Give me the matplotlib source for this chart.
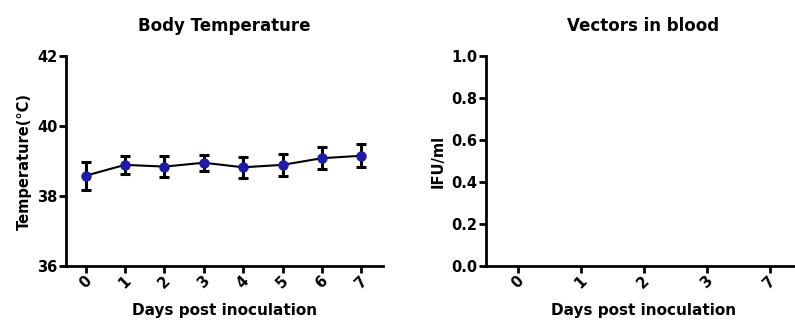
import numpy as np
import matplotlib
matplotlib.use("Agg")
import matplotlib.pyplot as plt

plt.rcParams['font.family'] = ['DejaVu Sans']
plt.rcParams['font.weight'] = 'bold'

# body temperature, mean and error per day
days = [0, 1, 2, 3, 4, 5, 6, 7]
temp = [38.58, 38.89, 38.84, 38.95, 38.82, 38.89, 39.08, 39.15]
temp_err = [0.40, 0.25, 0.30, 0.23, 0.30, 0.31, 0.32, 0.33]

# vectors in blood: no data drawn, only the category ticks
vec_days = ['0', '1', '2', '3', '7']

fig = plt.figure(figsize=(7.95, 3.26), dpi=100)
W, H = 795, 326

def px_axes(x0, y0, x1, y1):
    return fig.add_axes([x0 / W, 1 - y1 / H, (x1 - x0) / W, (y1 - y0) / H])

def style(ax):
    for s in ['top', 'right']:
        ax.spines[s].set_visible(False)
    for s in ['left', 'bottom']:
        ax.spines[s].set_linewidth(2)
    ax.tick_params(width=2, length=5, labelsize=10.5, pad=1)
    ax.tick_params(axis='x', pad=0)

# left panel
ax1 = px_axes(66, 56, 383, 266)
style(ax1)
ax1.errorbar(days, temp, yerr=temp_err, color='black', lw=1.5,
             ecolor='black', elinewidth=2.2, capsize=3.6, capthick=2.2,
             marker='o', ms=6.5, mfc='#1c1ca8', mec='#1c1ca8', zorder=3)
ax1.set_xlim(-0.5, 7.55)
ax1.set_ylim(36, 42)
ax1.set_yticks([36, 38, 40, 42])
ax1.set_xticks(days)
ax1.set_xticklabels([str(d) for d in days], rotation=45, ha='center', va='top')
ax1.set_title('Body Temperature', fontsize=12, fontweight='bold', pad=18)
ax1.set_ylabel('Temperature(°C)', fontsize=10.5, fontweight='bold', labelpad=4)
ax1.set_xlabel('Days post inoculation', fontsize=11, fontweight='bold', labelpad=9)

# right panel
ax2 = px_axes(486, 56, 801, 266)
style(ax2)
xpos = np.arange(len(vec_days))
ax2.set_xlim(-0.5, 4.5)
ax2.set_ylim(0, 1.0)
ax2.set_yticks([0.0, 0.2, 0.4, 0.6, 0.8, 1.0])
ax2.set_yticklabels(['%.1f' % v for v in [0.0, 0.2, 0.4, 0.6, 0.8, 1.0]])
ax2.set_xticks(xpos)
ax2.set_xticklabels(vec_days, rotation=45, ha='center', va='top')
ax2.set_title('Vectors in blood', fontsize=12, fontweight='bold', pad=18)
ax2.set_ylabel('IFU/ml', fontsize=10.5, fontweight='bold', labelpad=4)
ax2.set_xlabel('Days post inoculation', fontsize=11, fontweight='bold', labelpad=9)

fig.savefig('out.png', dpi=100)
